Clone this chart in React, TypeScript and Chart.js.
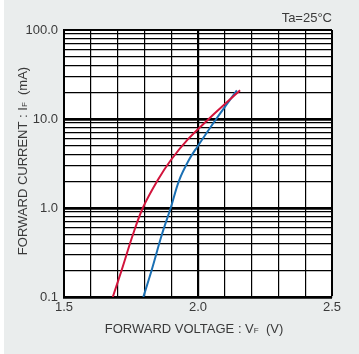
import React, { useEffect, useRef } from "react";
import { Chart, registerables } from "chart.js";

Chart.register(...registerables);

// Red curve: forward voltage (V) / forward current (mA)
const redVoltage = [1.682, 1.715, 1.757, 1.794, 1.85, 1.899, 1.962, 2.04, 2.157];
const redCurrent = [0.1, 0.2, 0.5, 1.0, 2.06, 3.46, 5.9, 10, 21];
// Blue curve
const blueVoltage = [1.796, 1.827, 1.865, 1.898, 1.93, 1.966, 1.997, 2.068, 2.145];
const blueCurrent = [0.1, 0.2, 0.5, 1.0, 2.06, 3.46, 4.85, 10, 21];

const xGridValues = [1.5, 1.6, 1.7, 1.8, 1.9, 2.0, 2.1, 2.2, 2.3, 2.4, 2.5];
const xTickLabels = ["1.5", "2.0", "2.5"];
const yDecades = [0.1, 1, 10, 100];
const yTickLabels = ["0.1", "1.0", "10.0", "100.0"];
const yMinorSteps = [1, 2, 3, 4, 5, 6, 7, 8, 9];

const xTitleMain = "FORWARD VOLTAGE : V";
const xTitleSub = "F";
const xTitleUnit = "  (V)";
const yTitleMain = "FORWARD CURRENT : I";
const yTitleSub = "F";
const yTitleUnit = "  (mA)";
const condition = "Ta=25°C";

const FONT = "'Liberation Sans', Arial, sans-serif";
const TEXT = "#3a3a3a";

const isDecade = (v: number) => {
  const l = Math.log10(v);
  return Math.abs(l - Math.round(l)) < 1e-9;
};

const bgPlugin = {
  id: "bg",
  beforeDraw(chart: any) {
    const { ctx, width, height, chartArea } = chart;
    ctx.save();
    ctx.fillStyle = "#ffffff";
    ctx.fillRect(0, 0, width, height);
    ctx.fillStyle = "#eaeded";
    ctx.fillRect(4, 0, width - 4, height);
    ctx.fillStyle = "#ffffff";
    ctx.fillRect(chartArea.left, chartArea.top, chartArea.right - chartArea.left, chartArea.bottom - chartArea.top);
    ctx.restore();
  },
};

function drawSubTitle(ctx: any, main: string, sub: string, unit: string, size: number) {
  ctx.font = `${size}px ${FONT}`;
  const w1 = ctx.measureText(main).width;
  ctx.font = `${size * 0.62}px ${FONT}`;
  const w2 = ctx.measureText(sub).width;
  ctx.font = `${size}px ${FONT}`;
  const w3 = ctx.measureText(unit).width;
  const total = w1 + w2 + w3;
  let x = -total / 2;
  ctx.textBaseline = "alphabetic";
  ctx.textAlign = "left";
  ctx.font = `${size}px ${FONT}`;
  ctx.fillText(main, x, 0);
  x += w1;
  ctx.font = `${size * 0.62}px ${FONT}`;
  ctx.fillText(sub, x, 0);
  x += w2;
  ctx.font = `${size}px ${FONT}`;
  ctx.fillText(unit, x, 0);
}

const textPlugin = {
  id: "texts",
  afterDraw(chart: any) {
    const { ctx, chartArea } = chart;
    ctx.save();
    ctx.fillStyle = TEXT;
    ctx.save();
    ctx.translate(194, 333);
    drawSubTitle(ctx, xTitleMain, xTitleSub, xTitleUnit, 13);
    ctx.restore();
    ctx.save();
    ctx.translate(27, 161);
    ctx.rotate(-Math.PI / 2);
    drawSubTitle(ctx, yTitleMain, yTitleSub, yTitleUnit, 13);
    ctx.restore();
    ctx.font = `13px ${FONT}`;
    ctx.textAlign = "right";
    ctx.textBaseline = "alphabetic";
    ctx.fillText(condition, chartArea.right, 22);
    ctx.restore();
  },
};

export default function App() {
  const ref = useRef<HTMLCanvasElement | null>(null);

  useEffect(() => {
    if (!ref.current) return;
    const chart = new Chart(ref.current, {
      type: "scatter",
      data: {
        datasets: [
          {
            data: redVoltage.map((v, i) => ({ x: v, y: redCurrent[i] })),
            showLine: true,
            borderColor: "#d2143c",
            borderWidth: 2,
            pointRadius: 0,
            tension: 0.35,
          },
          {
            data: blueVoltage.map((v, i) => ({ x: v, y: blueCurrent[i] })),
            showLine: true,
            borderColor: "#1b70b4",
            borderWidth: 2,
            pointRadius: 0,
            tension: 0.35,
          },
        ] as any,
      },
      options: {
        animation: false,
        responsive: false,
        maintainAspectRatio: false,
        layout: { padding: { left: 0, top: 30, right: 27, bottom: 0 } },
        plugins: { legend: { display: false }, tooltip: { enabled: false } },
        scales: {
          x: {
            type: "linear",
            min: 1.5,
            max: 2.5,
            afterBuildTicks: (axis: any) => {
              axis.ticks = xGridValues.map((v) => ({ value: v }));
            },
            afterFit: (scale: any) => {
              scale.height = 57;
            },
            ticks: {
              autoSkip: false,
              maxRotation: 0,
              padding: 3,
              color: TEXT,
              font: { family: FONT, size: 13 },
              callback: (value: any) => {
                const s = Number(value).toFixed(1);
                return xTickLabels.includes(s) ? s : "";
              },
            },
            grid: {
              drawTicks: false,
              color: "#000000",
              lineWidth: (c: any) => {
                const v = c.tick ? c.tick.value : 0;
                if (Math.abs(v - 2.0) < 1e-6) return 2.2;
                if (Math.abs(v - 2.5) < 1e-6) return 2;
                return 1.2;
              },
            },
            border: { display: true, color: "#000000", width: 2 },
          },
          y: {
            type: "logarithmic",
            min: 0.1,
            max: 100,
            afterBuildTicks: (axis: any) => {
              const t: any[] = [];
              yDecades.forEach((d, i) => {
                if (i === yDecades.length - 1) {
                  t.push({ value: d });
                } else {
                  yMinorSteps.forEach((k) => t.push({ value: k * d }));
                }
              });
              axis.ticks = t;
            },
            afterFit: (scale: any) => {
              scale.width = 64;
            },
            ticks: {
              autoSkip: false,
              padding: 6,
              color: TEXT,
              font: { family: FONT, size: 13 },
              callback: (value: any) => {
                const v = Number(value);
                if (!isDecade(v)) return "";
                const idx = yDecades.findIndex((d) => Math.abs(Math.log10(d) - Math.log10(v)) < 1e-9);
                return idx >= 0 ? yTickLabels[idx] : "";
              },
            },
            grid: {
              drawTicks: false,
              color: "#000000",
              lineWidth: (c: any) => {
                const v = c.tick ? c.tick.value : 0;
                if (!v) return 1.2;
                if (isDecade(v)) return Math.abs(v - 100) < 1e-6 ? 2 : 2.8;
                return 1.2;
              },
            },
            border: { display: true, color: "#000000", width: 2 },
          },
        },
      },
      plugins: [bgPlugin, textPlugin],
    });
    return () => chart.destroy();
  }, []);

  return (
    <div style={{ position: "absolute", left: 0, top: 0, width: 359, height: 354 }}>
      <canvas ref={ref} width={359} height={354} style={{ display: "block", width: 359, height: 354 }} />
    </div>
  );
}
